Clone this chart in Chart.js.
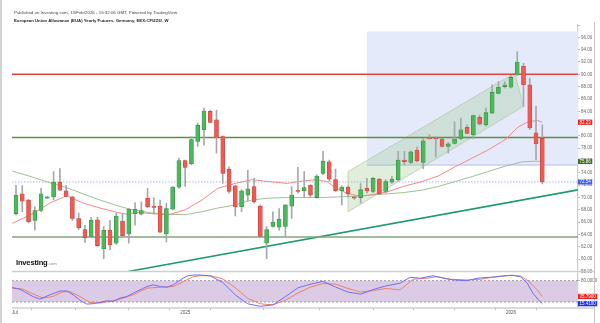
<!DOCTYPE html>
<html>
<head>
<meta charset="utf-8">
<script src="https://cdn.jsdelivr.net/npm/chart.js@4.4.1/dist/chart.umd.min.js"></script>
<style>
  html, body { margin: 0; padding: 0; background: #fff; }
  #wrap { position: relative; width: 600px; height: 323px; overflow: hidden; }
  #c { position: absolute; left: 0; top: 0; }
  .edge { position: absolute; left: 0; top: 0; width: 1.5px; height: 323px; background: #d4d4d4; }
  .t1 { position: absolute; left: 14px; top: 10px; font: 4.4px "Liberation Sans", Arial, sans-serif; color: #444; white-space: nowrap; }
  .t2 { position: absolute; left: 14px; top: 17.5px; font: bold 4.3px "Liberation Sans", Arial, sans-serif; color: #222; white-space: nowrap; }
  .logo { position: absolute; left: 16px; top: 255px; line-height: 10px; white-space: nowrap; font-family: "Liberation Sans", Arial, sans-serif; }
  .logo b { font-size: 7.6px; color: #111; letter-spacing: -0.2px; }
  .logo span { font-size: 4.2px; color: #888; }
</style>
</head>
<body>
<div id="wrap">
  <canvas id="c" width="600" height="323"></canvas>
  <div class="edge"></div>
  <div class="t1">Published on Investing.com, 13/Feb/2026 - 15:32:06 GMT, Powered by TradingView</div>
  <div class="t2">European Union Allowance (EUA) Yearly Futures, Germany, EEX:CFI2Z6!, W</div>
  <div class="logo"><b>Investing</b><span>.com</span></div>
</div>
<script>
// Weekly candles, index 0 = week of 1 Jul 2024, last = week of 9 Feb 2026
const open  = [67.4,70.6,69.6,66.3,67.9,69.9,70.1,72.5,71.1,70.1,66.6,64.8,63.6,66.4,61.7,64.7,62.6,66.2,64.1,67.4,
               67.3,69.9,68.6,68.6,64.1,68.1,71.7,76.0,75.5,79.1,81.0,84.0,82.6,79.9,74.6,71.9,68.5,70.4,71.8,68.6,
               62.6,65.3,65.2,65.3,68.6,71.1,71.1,72.0,70.0,73.9,75.8,72.9,71.1,71.7,70.1,70.0,71.5,71.0,73.0,71.0,
               72.5,72.9,76.1,75.7,77.7,75.7,79.7,79.6,79.5,78.3,78.8,79.6,81.4,80.2,83.0,81.8,83.7,86.9,88.0,87.9,
               89.9,91.3,88.3,80.5,79.6];
const high  = [72.0,71.9,69.7,68.5,71.5,70.2,74.2,74.7,72.0,70.2,67.5,65.5,66.8,66.8,65.3,66.3,67.5,67.4,68.2,69.2,
               69.3,71.5,70.0,69.6,69.1,71.8,76.4,76.1,79.9,82.1,84.5,84.2,84.2,80.0,75.0,72.0,71.3,74.4,73.1,68.8,
               65.3,67.7,68.2,68.8,71.8,74.9,74.2,72.1,73.7,77.5,76.1,74.6,71.9,71.9,70.2,72.3,73.1,73.3,73.1,72.9,
               73.5,77.5,77.5,77.6,78.2,79.6,80.2,79.9,79.6,78.9,82.3,82.9,81.8,83.4,83.4,84.5,88.3,88.8,88.8,89.8,
               93.7,91.8,89.4,84.8,81.8];
const low   = [67.2,67.7,65.9,64.7,67.7,69.8,69.6,71.1,70.1,66.3,64.8,62.7,63.5,62.0,60.1,61.5,62.4,63.6,62.6,65.5,
               67.2,68.4,67.3,64.3,62.8,68.0,71.5,71.8,75.3,78.3,78.5,82.1,77.2,72.3,70.7,67.0,67.7,69.5,69.1,63.5,
               60.1,65.2,64.7,63.6,66.6,70.7,70.1,70.1,69.9,73.7,72.6,71.0,68.8,70.1,69.7,69.1,70.7,70.8,70.5,70.7,
               72.3,72.7,75.3,75.5,75.8,74.7,79.5,76.6,78.2,77.2,78.7,79.4,80.4,79.5,81.8,81.6,83.6,86.8,87.8,87.8,
               89.8,84.8,81.0,76.1,72.2];
const close = [70.4,69.4,66.1,67.9,70.6,70.1,72.5,71.2,70.2,66.6,65.1,63.5,66.3,62.2,64.7,62.3,67.0,63.8,68.1,68.1,
               67.9,68.5,68.4,64.4,68.2,71.7,76.0,74.9,79.4,81.7,84.0,82.2,79.8,73.9,71.0,68.5,71.1,71.4,69.3,63.7,
               64.8,66.0,66.5,68.8,70.4,71.0,71.6,70.4,73.5,75.9,73.0,71.1,71.7,70.6,69.9,71.3,71.1,73.1,70.6,72.6,
               73.0,76.1,75.8,77.4,76.0,79.2,79.5,79.5,78.3,78.7,79.5,81.0,80.4,83.3,81.9,83.8,87.1,87.9,88.3,89.5,
               92.0,88.3,81.3,78.7,72.54];

// Moving averages, sampled along the week axis
const fastMaAt = [-0.6,2.7,5.4,8.1,10.7,13.4,16.1,17.7,19.3,21.7,24.3,27.0,29.7,32.2,35.0,37.7,40.2,43.3,45.8,48.0,
                  49.6,51.2,52.8,54.9,56.5,59.2,61.8,64.8,67.4,70.1,72.8,75.3,78.1,80.1,81.7,83.2,84.0];
const fastMa   = [65.8,67.4,69.1,70.3,69.1,68.3,67.6,67.3,67.6,67.4,67.2,68.0,69.6,71.5,72.3,72.9,72.6,72.3,72.7,72.9,
                  72.6,71.5,70.7,70.2,70.4,70.9,71.8,72.6,73.5,75.0,76.4,77.7,79.4,81.4,82.3,82.5,82.23];
const slowMaAt = [-0.6,2.7,5.4,8.1,10.7,13.4,16.1,18.2,19.3,21.7,24.3,27.0,29.7,32.2,35.0,37.7,40.2,43.3,45.8,48.5,
                  51.2,53.8,56.5,59.2,61.8,64.8,67.4,70.1,72.8,75.3,78.1,80.8,82.8,84.0];
const slowMa   = [74.3,73.3,72.4,71.6,70.6,69.6,68.7,68.1,67.9,67.5,67.3,67.2,67.7,68.3,68.8,69.6,69.9,70.0,70.0,70.0,
                  70.1,70.2,70.4,70.6,70.8,71.2,71.8,72.6,73.4,74.2,75.1,75.8,75.9,75.86];

// Drawn levels and shapes (price units / week index)
const resistance = 90.0;
const midLevel = 79.75;
const support = 63.6;
const trendFrom = [17.9, 58.0];
const trendTo = [89.7, 71.25];
const channelAt = [53.0, 53.0, 79.6, 81.0, 53.0];
const channelVal = [67.7, 74.2, 90.2, 84.8, 67.7];
const zoneFrom = 56.0, zoneTop = 96.96, zoneBottom = 75.28;

// Stochastic RSI (%K blue, %D red)
const kAt  = [-0.6,0.6,2.7,3.8,5.4,7.0,8.1,9.1,10.5,11.3,12.3,13.4,14.5,15.5,16.6,17.7,18.7,19.8,20.9,21.9,
              23.0,24.1,25.1,26.2,27.3,28.3,29.4,31,33,35,37,39,41,43,45,47,49,51,53,55,57,59,
              61.3,62.9,64.5,66.6,68.2,69.8,72.0,73.6,75.7,77.7,79.3,80.5,81.6,82.5,83.6,84.0];
const kVal = [60.6,56.1,35.6,28.3,40.3,50.6,51.4,40.3,21.7,14.4,15.3,18.9,23.6,21.7,31.1,35.6,45.0,54.2,63.3,68.1,
              63.3,61.7,68.1,81.9,93.1,95.8,95.8,93,75,40,15,8,12,35,60,70,78,62,48,42,55,65,
              72.8,89.4,86.7,93.9,86.7,81.9,80.0,86.7,89.4,93.1,95.0,91.1,72.8,45.0,21.7,15.41];
const dAt  = [-0.6,1.1,2.7,4.3,5.9,7.5,8.6,10.2,11.8,13.4,15.0,16.6,18.7,20.9,23.0,25.1,26.7,28.3,29.4,31,33,35,37,39,
              41,43,45,47,49,51,53,55,57,59,61.3,63.4,65.6,67.2,69.3,72.0,74.1,76.1,78.9,80.5,81.7,83.2,84.0];
const dVal = [58.9,56.1,43.1,31.1,35.6,48.6,49.4,35.6,18.9,17.2,21.7,28.3,40.3,58.9,61.7,63.3,77.2,91.1,93.9,94,85,60,
              30,15,12,25,45,62,72,70,58,48,52,58,54.2,83.9,86.7,91.1,83.9,81.9,83.9,89.4,95.0,93.1,80.0,54.2,35.79];
const rsiUpper = 80, rsiLower = 20;

// x axis labels
const xTickAt = [-0.2, 5, 14, 22, 27, 35, 44, 53, 61, 66, 74, 79, 87];
const xTickText = ['Jul', '', '', '', '2025', '', '', '', '', '', '', '2026', ''];

const weeks = open.map((_, i) => i);
const up = i => close[i] >= open[i];
const bodyFill = weeks.map(i => up(i) ? '#4cb85d' : '#ef5a52');
const bodyEdge = weeks.map(i => up(i) ? '#2f8f3e' : '#c9413a');
const pts = (xs, ys) => xs.map((x, i) => ({ x, y: ys[i] }));
const X0 = -0.64, X1 = 89.7;
const hline = v => [{ x: X0, y: v }, { x: X1, y: v }];

const lineBase = { type: 'line', pointRadius: 0, fill: false, tension: 0, yAxisID: 'y' };

const datasets = [
  // bodies on top
  { type: 'bar', label: 'body', yAxisID: 'y', grouped: false, order: 1,
    data: weeks.map(i => ({ x: i, y: [open[i], close[i]] })),
    backgroundColor: bodyFill, borderColor: bodyEdge, borderWidth: 0.6, borderSkipped: false,
    barThickness: 4, minBarLength: 1 },
  { type: 'bar', label: 'wick', yAxisID: 'y', grouped: false, order: 2,
    data: weeks.map(i => ({ x: i, y: [low[i], high[i]] })),
    backgroundColor: '#a4a9ad', barThickness: 1 },
  { ...lineBase, label: 'fast', order: 3, data: pts(fastMaAt, fastMa), borderColor: '#f08b86', borderWidth: 1 },
  { ...lineBase, label: 'slow', order: 4, data: pts(slowMaAt, slowMa), borderColor: '#a3bf95', borderWidth: 1 },
  { ...lineBase, label: 'res', order: 5, data: hline(resistance), borderColor: '#e0463d', borderWidth: 1.5 },
  { ...lineBase, label: 'mid', order: 5, data: hline(midLevel), borderColor: '#5e8f3f', borderWidth: 1.6 },
  { ...lineBase, label: 'sup', order: 5, data: hline(support), borderColor: '#86a57a', borderWidth: 1.4 },
  { ...lineBase, label: 'trend', order: 5, data: [{ x: trendFrom[0], y: trendFrom[1] }, { x: trendTo[0], y: trendTo[1] }],
    borderColor: '#1f9a72', borderWidth: 1.6 },
  { ...lineBase, label: 'last', order: 6, data: hline(close[close.length - 1]), borderColor: '#a7b6f2',
    borderWidth: 1, borderDash: [1.5, 1.5] },
  { ...lineBase, label: 'channel', order: 7, data: pts(channelAt, channelVal), fill: 'shape',
    backgroundColor: 'rgba(150,195,130,0.28)', borderColor: '#b2cba6', borderWidth: 0.8 },
  { ...lineBase, label: 'zoneEdge', order: 8, data: [{ x: zoneFrom, y: zoneBottom }, { x: X1, y: zoneBottom }],
    borderColor: '#c6cef5', borderWidth: 1.6 },
  { ...lineBase, label: 'zone', order: 9,
    data: [{ x: zoneFrom, y: zoneTop }, { x: X1, y: zoneTop }, { x: X1, y: zoneBottom }, { x: zoneFrom, y: zoneBottom }, { x: zoneFrom, y: zoneTop }],
    fill: 'shape', backgroundColor: '#e5eafb', borderWidth: 0 },

  // oscillator pane
  { ...lineBase, yAxisID: 'yr', label: 'k', order: 1, data: pts(kAt, kVal), borderColor: '#6f6ff0', borderWidth: 1 },
  { ...lineBase, yAxisID: 'yr', label: 'd', order: 2, data: pts(dAt, dVal), borderColor: '#ee7f6c', borderWidth: 1 },
  { ...lineBase, yAxisID: 'yr', label: 'lo', order: 5, data: hline(rsiLower), borderColor: '#8d7f8f',
    borderWidth: 0.8, borderDash: [2, 2] },
  { ...lineBase, yAxisID: 'yr', label: 'hi', order: 6, data: hline(rsiUpper), borderColor: '#8d7f8f',
    borderWidth: 0.8, borderDash: [2, 2], fill: { value: rsiLower }, backgroundColor: '#dccbe5' }
];

const tickFont = { family: '"Liberation Sans", Arial, sans-serif', size: 4.5 };

// Frame lines and last-value tags on the price axis
const framePlugin = {
  id: 'frame',
  afterDraw(chart) {
    const { ctx, chartArea, scales } = chart;
    const yMain = scales.y, yOsc = scales.yr;
    ctx.save();
    ctx.strokeStyle = '#cfcfcf';
    ctx.lineWidth = 1.5;
    ctx.beginPath();
    ctx.moveTo(chartArea.left, yMain.bottom); ctx.lineTo(594, yMain.bottom);
    ctx.moveTo(chartArea.left, chartArea.bottom); ctx.lineTo(594, chartArea.bottom);
    ctx.stroke();
    ctx.lineWidth = 1;
    ctx.strokeStyle = '#c8c8c8';
    ctx.beginPath();
    ctx.moveTo(594.5, chartArea.top - 3); ctx.lineTo(594.5, 323);
    ctx.stroke();

    const tags = [
      { s: yMain, v: fastMa[fastMa.length - 1], t: fastMa[fastMa.length - 1].toFixed(2), c: '#f0201c' },
      { s: yMain, v: slowMa[slowMa.length - 1], t: slowMa[slowMa.length - 1].toFixed(2), c: '#3f6f1f' },
      { s: yMain, v: close[close.length - 1], t: close[close.length - 1].toFixed(2), c: '#3d5ef0' },
      { s: yOsc, v: dVal[dVal.length - 1], t: dVal[dVal.length - 1].toFixed(4), c: '#f0201c' },
      { s: yOsc, v: kVal[kVal.length - 1], t: kVal[kVal.length - 1].toFixed(4), c: '#1f2ff0' }
    ];
    ctx.font = '4.5px "Liberation Sans", Arial, sans-serif';
    ctx.textBaseline = 'middle';
    for (const g of tags) {
      const py = g.s.getPixelForValue(g.v);
      const w = ctx.measureText(g.t).width + 3;
      ctx.fillStyle = g.c;
      ctx.fillRect(chartArea.right, py - 2.6, w, 5.2);
      ctx.fillStyle = '#fff';
      ctx.fillText(g.t, chartArea.right + 1.5, py + 0.2);
    }
    ctx.restore();
  }
};

new Chart(document.getElementById('c'), {
  type: 'line',
  data: { datasets },
  options: {
    responsive: false,
    animation: false,
    devicePixelRatio: 1,
    events: [],
    layout: { padding: { left: 12, top: 25, right: 0, bottom: 0 } },
    plugins: { legend: { display: false }, tooltip: { enabled: false } },
    scales: {
      x: {
        type: 'linear', min: X0, max: X1, offset: false,
        grid: { display: true, drawOnChartArea: false, drawTicks: true, tickLength: 2, color: '#b5b5b5' },
        border: { display: false },
        afterBuildTicks: s => { s.ticks = xTickAt.map(v => ({ value: v })); },
        ticks: { autoSkip: false, maxRotation: 0, padding: 0.5, color: '#555', font: tickFont,
                 callback: (v, i) => xTickText[i] },
        afterFit: s => { s.height = 15; }
      },
      y: {
        position: 'right', stack: 'panes', stackWeight: 246.5, min: 58, max: 98,
        grid: { display: true, drawOnChartArea: false, drawTicks: true, tickLength: 2, color: '#b5b5b5' },
        border: { display: true, color: '#cdcdcd', width: 1.2 },
        ticks: { stepSize: 2, autoSkip: false, padding: 1, color: '#666', font: tickFont,
                 callback: v => (v >= 97 ? '' : v.toFixed(2)) },
        afterFit: s => { s.width = 22; }
      },
      yr: {
        position: 'right', stack: 'panes', stackWeight: 36.5, min: 3.3, max: 105.6,
        grid: { display: true, drawOnChartArea: false, drawTicks: true, tickLength: 2, color: '#b5b5b5' },
        border: { display: true, color: '#cdcdcd', width: 1.2 },
        afterBuildTicks: s => { s.ticks = [{ value: rsiUpper }]; },
        ticks: { autoSkip: false, padding: 1, color: '#666', font: tickFont, callback: v => v.toFixed(4) },
        afterFit: s => { s.width = 22; }
      }
    }
  },
  plugins: [framePlugin]
});
</script>
</body>
</html>
